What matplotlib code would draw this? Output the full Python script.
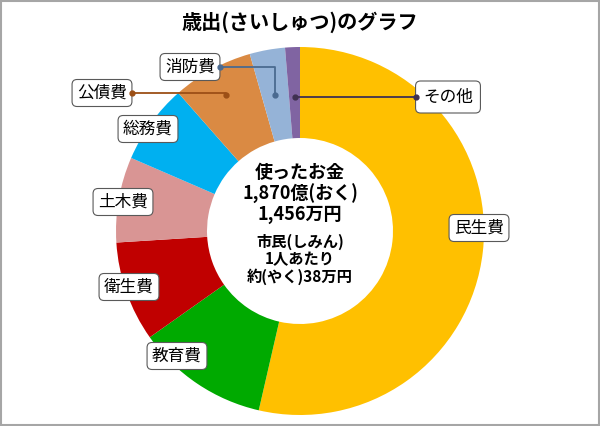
import matplotlib
matplotlib.use('Agg')
import matplotlib.pyplot as plt
import numpy as np
from matplotlib.patches import Rectangle

plt.rcParams['font.family'] = ['Noto Sans CJK JP', 'DejaVu Sans']

# --- data (share of total spending, %) ---
categories = ['民生費', '教育費', '衛生費', '土木費', '総務費', '公債費', '消防費', 'その他']
shares = [53.6, 11.6, 8.8, 7.5, 7.0, 7.1, 3.1, 1.3]
colors = ['#FFC000', '#00AA00', '#C00000', '#D99594', '#00B0F0', '#DA8A43', '#95B3D7', '#8064A2']

title = '歳出(さいしゅつ)のグラフ'
total_text = ['使ったお金', '1,870億(おく)', '1,456万円']
per_person_text = ['市民(しみん)', '1人あたり', '約(やく)38万円']

# --- layout (pixels, y measured from top) ---
W, H = 600, 426
CX, CY, R, RIN = 300, H - 231, 184, 93

label_pos = {
    '民生費': (479, 228), '教育費': (177, 356), '衛生費': (129, 287),
    '土木費': (123, 202), '総務費': (148, 129), '公債費': (102, 93),
    '消防費': (190, 67), 'その他': (448, 97),
}
# leader lines: radius of the dot (fraction of R), line colour, side of the box
leaders = {
    '公債費': (0.84, '#9C4F16', 'right'),
    '消防費': (0.75, '#4A6A90', 'right'),
    'その他': (0.73, '#3F3151', 'left'),
}

fig = plt.figure(figsize=(W / 100, H / 100), dpi=100)
ax = fig.add_axes([0, 0, 1, 1])

wedges, _ = ax.pie(shares, colors=colors, startangle=90, counterclock=False,
                   center=(CX, CY), radius=R,
                   wedgeprops=dict(width=R - RIN, linewidth=0))
ax.set_xlim(0, W)
ax.set_ylim(0, H)
ax.set_aspect('equal')
ax.axis('off')

ax.add_patch(Rectangle((1, 1), W - 2, H - 2, fill=False, ec='#A6A6A6', lw=1.5))

ax.text(W / 2, H - 22, title, ha='center', va='center', fontsize=14.5, fontweight='bold')

for i, s in enumerate(total_text):
    ax.text(CX, H - 173 - i * 21, s, ha='center', va='center', fontsize=13, fontweight='bold')
for i, s in enumerate(per_person_text):
    ax.text(CX, H - 242 - i * 17.5, s, ha='center', va='center', fontsize=11, fontweight='bold')

texts = {}
for cat in categories:
    x, y = label_pos[cat]
    pad = 0.45 if cat == 'その他' else 0.3
    texts[cat] = ax.text(x, H - y, cat, ha='center', va='center', fontsize=12,
                         bbox=dict(boxstyle=f'round,pad={pad},rounding_size=0.3',
                                   fc='white', ec='#595959', lw=0.8), zorder=5)

fig.canvas.draw()
renderer = fig.canvas.get_renderer()

for cat, (frac, col, side) in leaders.items():
    w = wedges[categories.index(cat)]
    mid = np.deg2rad((w.theta1 + w.theta2) / 2)
    dx, dy = CX + frac * R * np.cos(mid), CY + frac * R * np.sin(mid)
    bb = texts[cat].get_bbox_patch().get_window_extent(renderer)
    bx = bb.x1 if side == 'right' else bb.x0
    by = (bb.y0 + bb.y1) / 2
    ax.plot([bx, dx, dx], [by, by, dy], color=col, lw=1.3, zorder=4)
    ax.plot([bx, dx], [by, dy], 'o', color=col, ms=3.5, zorder=6)

fig.savefig('out.png', dpi=100)
